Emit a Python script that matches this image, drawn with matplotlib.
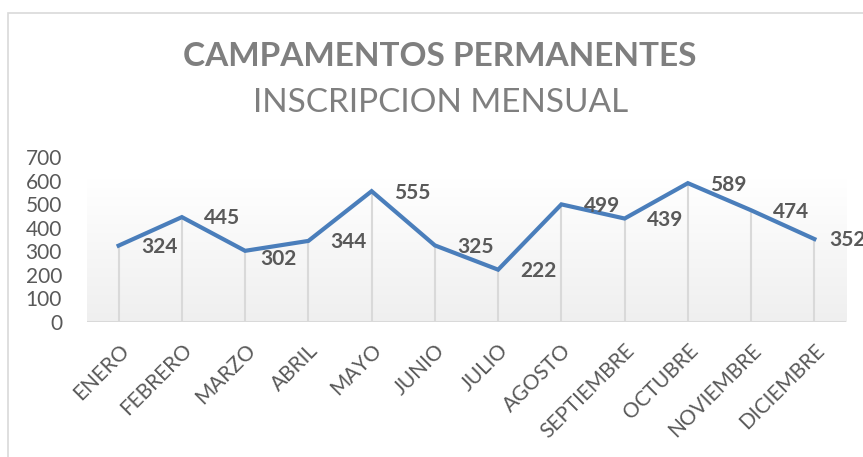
import numpy as np
import matplotlib.pyplot as plt
from matplotlib.patches import Rectangle

meses = ['ENERO', 'FEBRERO', 'MARZO', 'ABRIL', 'MAYO', 'JUNIO', 'JULIO',
         'AGOSTO', 'SEPTIEMBRE', 'OCTUBRE', 'NOVIEMBRE', 'DICIEMBRE']
inscritos = [324, 445, 302, 344, 555, 325, 222, 499, 439, 589, 474, 352]
y_ticks = [0, 100, 200, 300, 400, 500, 600, 700]

plt.rcParams['font.family'] = ['Lato', 'DejaVu Sans']
gris = '#595959'

fig = plt.figure(figsize=(8.63, 4.57), dpi=100)
ax = fig.add_axes([87 / 863, 1 - 322 / 457, (846 - 87) / 863, 165 / 457])

x = np.arange(len(meses))

# plot area gradient, white at the top to light gray at the bottom
grad = np.linspace(1.0, 0.0, 256).reshape(-1, 1)
ax.imshow(grad, cmap=plt.matplotlib.colors.LinearSegmentedColormap.from_list(
    'g', ['#efefef', '#ffffff']), aspect='auto',
    extent=[-0.5, len(meses) - 0.5, 0, 605], origin='upper', zorder=0)

ax.vlines(x, 0, inscritos, colors='#d9d9d9', linewidth=1.5, zorder=1)
ax.axhline(0, color='#d9d9d9', linewidth=1.5, zorder=1)
ax.plot(x, inscritos, color='#4a7ebb', linewidth=3, zorder=3,
        solid_joinstyle='miter')

# a couple of labels sit a bit closer to their point
ajustes = {'MARZO': (11, -6), 'DICIEMBRE': (11, -1)}
for xi, mes, v in zip(x, meses, inscritos):
    off = ajustes.get(mes, (16, -1))
    ax.annotate(str(v), (xi, v), xytext=off, textcoords='offset points',
                ha='left', va='center', fontsize=15, fontweight='bold',
                color=gris, zorder=4, annotation_clip=False)

ax.set_xlim(-0.5, len(meses) - 0.5)
ax.set_ylim(0, 700)
ax.set_yticks(y_ticks)
ax.set_yticklabels([str(t) for t in y_ticks], fontsize=15, color=gris)
ax.set_xticks(x)
ax.set_xticklabels(meses, rotation=45, ha='right', rotation_mode='anchor',
                   fontsize=15, color=gris)
ax.tick_params(axis='x', length=0, pad=13)
ax.tick_params(axis='y', length=0, pad=18)
for s in ax.spines.values():
    s.set_visible(False)

fig.text(0.51, 1 - 57 / 457, 'CAMPAMENTOS PERMANENTES', ha='center',
         va='center', fontsize=24, fontweight='bold', color='#7f7f7f')
fig.text(0.51, 1 - 103 / 457, 'INSCRIPCION MENSUAL', ha='center',
         va='center', fontsize=24, color='#7f7f7f')

fig.patches.append(Rectangle((8 / 863, -0.1), 1.2, 1.1 - 13 / 457,
                             transform=fig.transFigure, fill=False,
                             edgecolor='#d9d9d9', linewidth=1.2))

fig.savefig('out.png', dpi=100)
